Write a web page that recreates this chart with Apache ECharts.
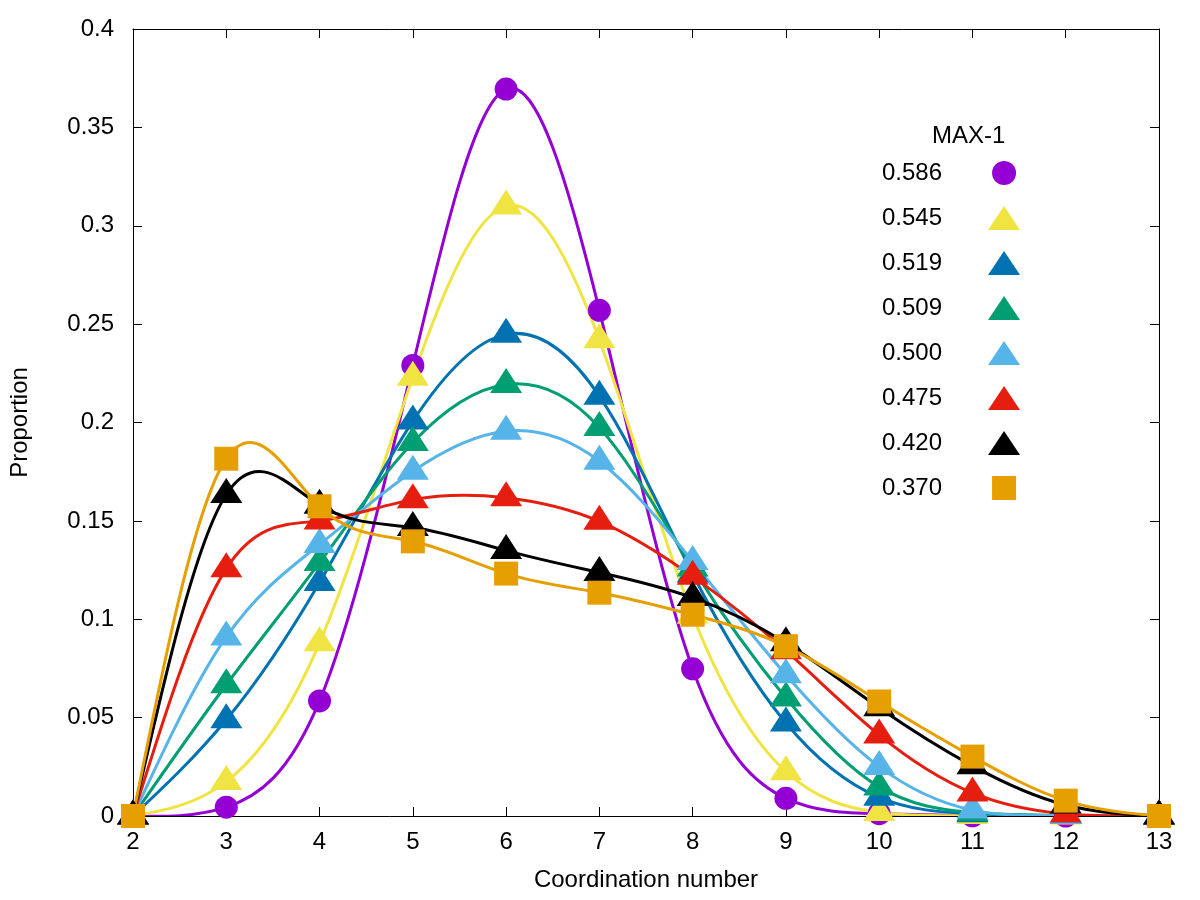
<!DOCTYPE html>
<html>
<head>
<meta charset="utf-8">
<title>Coordination number</title>
<script src="https://cdn.jsdelivr.net/npm/echarts@6/dist/echarts.min.js"></script>
<style>
  html, body { margin: 0; padding: 0; background: #fff; }
  #chart { width: 1200px; height: 900px; }
</style>
</head>
<body>
<div id="chart"></div>
<script>
// coordination numbers on the x axis
const coordNumbers = [2, 3, 4, 5, 6, 7, 8, 9, 10, 11, 12, 13];

// proportion for each MAX-1 value
const p586 = [0, 0.0045, 0.0585, 0.229, 0.3695, 0.257, 0.0748, 0.009, 0.0012, 0.0001, 0, 0];
const p545 = [0, 0.0175, 0.088, 0.223, 0.310, 0.242, 0.102, 0.0225, 0.0018, 0.0002, 0, 0];
const p519 = [0, 0.0489, 0.1187, 0.2007, 0.2448, 0.2134, 0.123, 0.0473, 0.0095, 0.0012, 0.0002, 0];
const p509 = [0, 0.0667, 0.1288, 0.1898, 0.2193, 0.1974, 0.126, 0.060, 0.0148, 0.0018, 0.0003, 0];
const p500 = [0, 0.091, 0.138, 0.1752, 0.1956, 0.1803, 0.1294, 0.0718, 0.0251, 0.003, 0.0003, 0];
const p475 = [0, 0.1257, 0.150, 0.1608, 0.1618, 0.1498, 0.1218, 0.084, 0.0412, 0.0117, 0.001, 0];
const p420 = [0, 0.1634, 0.158, 0.1466, 0.1349, 0.1238, 0.111, 0.088, 0.055, 0.0255, 0.0056, 0];
const p370 = [0, 0.1816, 0.1574, 0.1396, 0.1232, 0.1135, 0.1023, 0.0863, 0.0582, 0.0302, 0.0078, 0];

const seriesNames = ['0.586', '0.545', '0.519', '0.509', '0.500', '0.475', '0.420', '0.370'];
const seriesValues = [p586, p545, p519, p509, p500, p475, p420, p370];
const seriesColors = ['#9400d3', '#f0e442', '#0072b2', '#009e73', '#56b4e9', '#e51e10', '#000000', '#e69f00'];
const seriesMarks = ['circle', 'triangle', 'triangle', 'triangle', 'triangle', 'triangle', 'triangle', 'square'];

const yTicks = { min: 0, max: 0.4, step: 0.05 };
const xTicks = { min: 2, max: 13, step: 1 };

const FONT = 'Liberation Sans';
const FS = 24;
const SQUARE = 'path://M0 0H10V10H0Z';

function markSymbol(kind) {
  if (kind === 'circle') return { symbol: 'circle', symbolSize: 23, symbolOffset: [0, 0] };
  if (kind === 'square') return { symbol: 'rect', symbolSize: 24, symbolOffset: [0, 0] };
  // gnuplot centres the triangle on its centroid
  return { symbol: 'triangle', symbolSize: [32, 25], symbolOffset: [0, -4] };
}

function legendIcon(kind) {
  if (kind === 'square') return SQUARE;
  return kind;
}

// natural cubic spline (like gnuplot "smooth csplines"), turned into bezier segments
function splineBezier(xs, ys) {
  const n = xs.length - 1;
  const h = [];
  for (let i = 0; i < n; i++) h.push(xs[i + 1] - xs[i]);
  // second derivatives, M[0] = M[n] = 0
  const M = new Array(n + 1).fill(0);
  const a = [], b = [], c = [], d = [];
  for (let i = 1; i < n; i++) {
    a.push(h[i - 1]);
    b.push(2 * (h[i - 1] + h[i]));
    c.push(h[i]);
    d.push(6 * ((ys[i + 1] - ys[i]) / h[i] - (ys[i] - ys[i - 1]) / h[i - 1]));
  }
  // thomas algorithm
  const m = b.length;
  for (let i = 1; i < m; i++) {
    const w = a[i] / b[i - 1];
    b[i] -= w * c[i - 1];
    d[i] -= w * d[i - 1];
  }
  for (let i = m - 1; i >= 0; i--) {
    M[i + 1] = (d[i] - (i < m - 1 ? c[i] * M[i + 2] : 0)) / b[i];
  }
  const segs = [];
  for (let i = 0; i < n; i++) {
    const s = (ys[i + 1] - ys[i]) / h[i];
    const d0 = s - h[i] * (2 * M[i] + M[i + 1]) / 6;
    const d1 = s + h[i] * (M[i] + 2 * M[i + 1]) / 6;
    segs.push([
      [xs[i] + h[i] / 3, ys[i] + d0 * h[i] / 3],
      [xs[i + 1] - h[i] / 3, ys[i + 1] - d1 * h[i] / 3],
      [xs[i + 1], ys[i + 1]]
    ]);
  }
  return segs;
}

const chart = echarts.init(document.getElementById('chart'));

const series = [];
seriesNames.forEach((name, i) => {
  const values = seriesValues[i];
  const points = coordNumbers.map((x, j) => [x, values[j]]);
  const segs = splineBezier(coordNumbers, values);

  series.push({
    name: 'curve ' + name,
    type: 'custom',
    clip: true,
    silent: true,
    data: [points[0]],
    renderItem: (params, api) => {
      const p = (pt) => api.coord(pt).map(v => v.toFixed(2)).join(' ');
      let d = 'M' + p(points[0]);
      segs.forEach(s => { d += ' C' + p(s[0]) + ' ' + p(s[1]) + ' ' + p(s[2]); });
      return {
        type: 'path',
        shape: { pathData: d },
        style: { fill: null, stroke: seriesColors[i], lineWidth: 3, lineJoin: 'round' }
      };
    },
    animation: false
  });

  const mark = markSymbol(seriesMarks[i]);
  series.push({
    name: name,
    type: 'line',
    data: points,
    symbol: mark.symbol,
    symbolSize: mark.symbolSize,
    symbolOffset: mark.symbolOffset,
    showAllSymbol: true,
    itemStyle: { color: seriesColors[i], opacity: 1 },
    lineStyle: { width: 0, opacity: 0 },
    emphasis: { disabled: true },
    animation: false
  });
});

const tickStyle = { inside: true, length: 9, lineStyle: { color: '#000', width: 1 } };
const lineStyle = { show: true, onZero: false, lineStyle: { color: '#000', width: 1 } };

const option = {
  backgroundColor: '#fff',
  animation: false,
  title: {
    text: 'MAX-1',
    left: 932,
    top: 124,
    padding: 0,
    textStyle: { fontFamily: FONT, fontSize: FS, fontWeight: 'normal', color: '#000' }
  },
  legend: {
    orient: 'vertical',
    left: 882,
    top: 161,
    padding: 0,
    align: 'right',
    itemWidth: 32,
    itemHeight: 24,
    itemGap: 21,
    selectedMode: false,
    data: seriesNames.map((name, i) => ({ name: name, icon: legendIcon(seriesMarks[i]) })),
    textStyle: { fontFamily: FONT, fontSize: FS, color: '#000', padding: [0, 41, 0, 0] }
  },
  grid: { left: 132, right: 41, top: 29, bottom: 84, containLabel: false },
  xAxis: [
    {
      type: 'value',
      position: 'bottom',
      min: xTicks.min,
      max: xTicks.max,
      interval: xTicks.step,
      name: 'Coordination number',
      nameLocation: 'middle',
      nameGap: 52,
      nameTextStyle: { fontFamily: FONT, fontSize: FS, color: '#000' },
      axisLine: lineStyle,
      axisTick: tickStyle,
      axisLabel: { fontFamily: FONT, fontSize: FS, color: '#000', margin: 14 },
      splitLine: { show: false }
    },
    {
      type: 'value',
      position: 'top',
      min: xTicks.min,
      max: xTicks.max,
      interval: xTicks.step,
      axisLine: lineStyle,
      axisTick: tickStyle,
      axisLabel: { show: false },
      splitLine: { show: false }
    }
  ],
  yAxis: [
    {
      type: 'value',
      position: 'left',
      min: yTicks.min,
      max: yTicks.max,
      interval: yTicks.step,
      name: 'Proportion',
      nameLocation: 'middle',
      nameGap: 101,
      nameTextStyle: { fontFamily: FONT, fontSize: FS, color: '#000' },
      axisLine: lineStyle,
      axisTick: tickStyle,
      axisLabel: { fontFamily: FONT, fontSize: FS, color: '#000', margin: 19 },
      splitLine: { show: false }
    },
    {
      type: 'value',
      position: 'right',
      min: yTicks.min,
      max: yTicks.max,
      interval: yTicks.step,
      axisLine: lineStyle,
      axisTick: tickStyle,
      axisLabel: { show: false },
      splitLine: { show: false }
    }
  ],
  series: series
};

chart.setOption(option);
</script>
</body>
</html>
